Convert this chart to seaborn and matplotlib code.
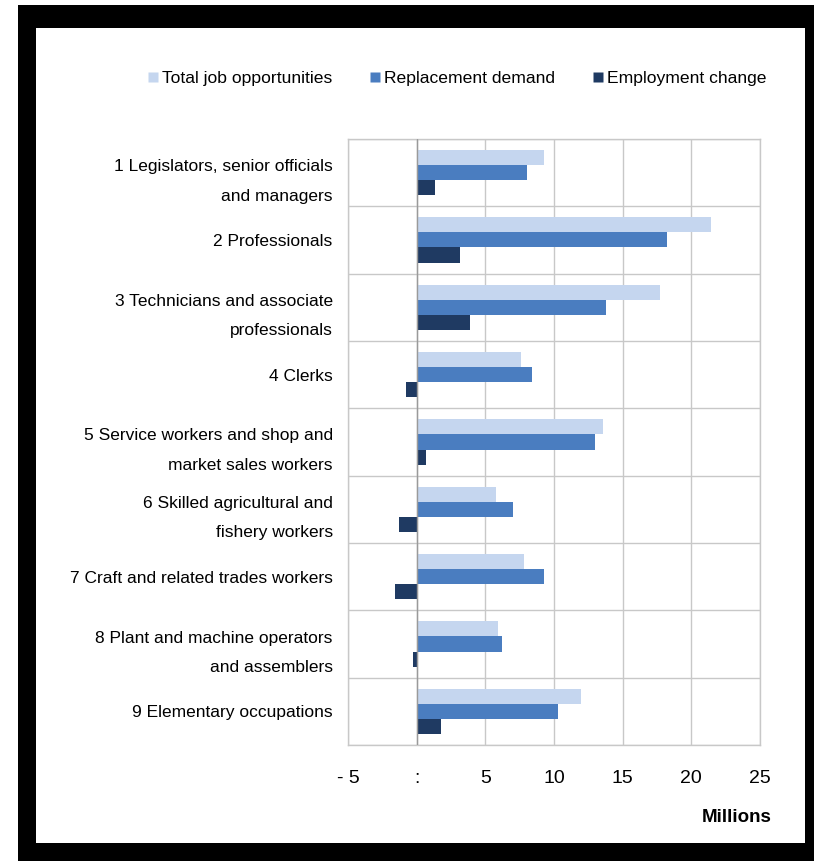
import matplotlib
matplotlib.use("Agg")
import matplotlib.pyplot as plt
from matplotlib.patches import Rectangle
from matplotlib.lines import Line2D
import seaborn as sns
import pandas as pd

categories = [
    "1 Legislators, senior officials\nand managers",
    "2 Professionals",
    "3 Technicians and associate\nprofessionals",
    "4 Clerks",
    "5 Service workers and shop and\nmarket sales workers",
    "6 Skilled agricultural and\nfishery workers",
    "7 Craft and related trades workers",
    "8 Plant and machine operators\nand assemblers",
    "9 Elementary occupations",
]
series = ["Total job opportunities", "Replacement demand", "Employment change"]
total_jobs = [9.3, 21.4, 17.7, 7.6, 13.6, 5.8, 7.8, 5.9, 12.0]
replacement = [8.0, 18.2, 13.8, 8.4, 13.0, 7.0, 9.3, 6.2, 10.3]
employment = [1.35, 3.15, 3.9, -0.8, 0.7, -1.25, -1.55, -0.3, 1.8]
xticks = [-5, 0, 5, 10, 15, 20, 25]
xtick_labels = ["- 5", ":", "5", "10", "15", "20", "25"]
colors = ["#C5D6EF", "#4A7DC0", "#1F3A62"]

rows = []
for vals, s in zip([total_jobs, replacement, employment], series):
    for c, v in zip(categories, vals):
        rows.append({"category": c, "series": s, "value": v})
df = pd.DataFrame(rows)

sns.set_style("white")
plt.rcParams["font.family"] = ["Liberation Sans", "DejaVu Sans"]
fs = 12.5
plt.rcParams["text.color"] = "black"
plt.rcParams["xtick.color"] = "black"
plt.rcParams["ytick.color"] = "black"

fig = plt.figure(figsize=(8.14, 8.61), dpi=100)
fig.patch.set_facecolor("white")
fig.add_artist(Rectangle((0.0221, 0.0), 0.978, 0.9942, transform=fig.transFigure,
                         facecolor="black", edgecolor="none", zorder=-10))
fig.add_artist(Rectangle((0.0442, 0.0209), 0.9447, 0.9466, transform=fig.transFigure,
                         facecolor="white", edgecolor="none", zorder=-9))

ax = fig.add_axes([0.4275, 0.1347, 0.5062, 0.7039])
ax.set_facecolor("none")
sns.barplot(data=df, x="value", y="category", hue="series", order=categories,
            hue_order=series, palette=colors, orient="h", width=0.67,
            edgecolor="none", saturation=1, legend=False, ax=ax)

ax.set_xlim(-5, 25)
ax.set_ylim(len(categories) - 0.5, -0.5)
ax.set_xticks(xticks)
ax.set_xticklabels(xtick_labels, fontsize=14)
ax.set_yticks(range(len(categories)))
ax.set_yticklabels(categories, fontsize=fs, linespacing=2.2,
                   multialignment="right")
ax.set_xlabel("")
ax.set_ylabel("")
ax.tick_params(axis="y", length=0, pad=11)
ax.tick_params(axis="x", length=0, pad=18)

grid_c = "#C8C8C8"
for x in xticks:
    ax.axvline(x, color=grid_c, lw=1.0, zorder=0)
for i in range(len(categories) + 1):
    ax.axhline(i - 0.5, color=grid_c, lw=1.0, zorder=0)
ax.axvline(0, color="#9A9A9A", lw=1.0, zorder=3)
for sp in ax.spines.values():
    sp.set_color(grid_c)
    sp.set_linewidth(1.0)

handles = [Line2D([], [], marker="s", linestyle="none", markersize=7.5,
                  markerfacecolor=c, markeredgecolor="none") for c in colors]
fig.legend(handles, series, loc="center", bbox_to_anchor=(0.562, 0.909), ncol=3,
           frameon=False, fontsize=12.6, handlelength=0.5, handletextpad=0.25,
           columnspacing=2.2)

fig.text(0.948, 0.05, "Millions", ha="right", va="center", fontsize=13.5,
         fontweight="bold")

fig.savefig("out.png", dpi=100)
